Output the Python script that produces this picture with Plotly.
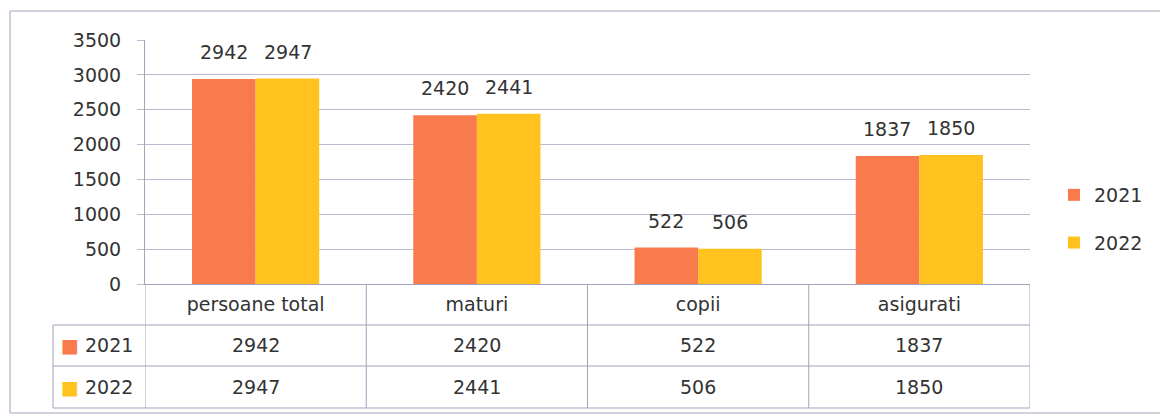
import plotly.graph_objects as go

categories = ["persoane total", "maturi", "copii", "asigurati"]
years = ["2021", "2022"]
values_2021 = [2942, 2420, 522, 1837]
values_2022 = [2947, 2441, 506, 1850]
y_ticks = [0, 500, 1000, 1500, 2000, 2500, 3000, 3500]

COLORS = {"2021": "#F97A4C", "2022": "#FFC21F"}
GRID = "#B9B9D6"
LINE = "#A3A3BC"
TEXT = "#333333"
FONT = "DejaVu Sans, sans-serif"
FS = 19

W, H = 1160, 418
X0, X1 = 145 / W, 1030 / W
Y_ZERO, Y_TOP = 1 - 284 / H, 1 - 40 / H
ROW_LINES = [1 - 325 / H, 1 - 366 / H, 1 - 408 / H]
ROW_MID = [1 - 345 / H, 1 - 387 / H]
TABLE_LEFT = 53 / W

series = {"2021": values_2021, "2022": values_2022}

fig = go.Figure()
for yr in years:
    fig.add_trace(go.Bar(
        x=categories, y=series[yr], name=yr, legendgroup=yr,
        marker=dict(color=COLORS[yr], line=dict(width=0)),
    ))

annotations = []
# value labels above bars
for i, yr in enumerate(years):
    shift = -32 if i == 0 else 32
    for cat, v in zip(categories, series[yr]):
        annotations.append(dict(
            x=cat, y=v, xref="x", yref="y", text=str(v), showarrow=False,
            xshift=shift, yshift=14, yanchor="bottom",
            font=dict(size=FS, color=TEXT, family=FONT),
        ))

# data table under the axis
for r, yr in enumerate(years):
    annotations.append(dict(
        x=TABLE_LEFT + 6 / W, y=ROW_MID[r], xref="paper", yref="paper",
        text=f"<span style='color:{COLORS[yr]}'>■</span> {yr}",
        showarrow=False, xanchor="left", yanchor="middle",
        font=dict(size=FS, color=TEXT, family=FONT),
    ))
    for cat, v in zip(categories, series[yr]):
        annotations.append(dict(
            x=cat, y=ROW_MID[r], xref="x", yref="paper", text=str(v),
            showarrow=False, yanchor="middle",
            font=dict(size=FS, color=TEXT, family=FONT),
        ))

shapes = [
    # outer chart frame
    dict(type="rect", xref="paper", yref="paper", x0=10 / W, x1=1.01,
         y0=1 - 413 / H, y1=1 - 11 / H, line=dict(color=LINE, width=1)),
]
# table grid: category separators
for k in range(len(categories) + 1):
    shapes.append(dict(type="line", xref="x", yref="paper", x0=k - 0.5, x1=k - 0.5,
                       y0=ROW_LINES[-1], y1=Y_ZERO, line=dict(color=LINE, width=1)))
# row label box side
shapes.append(dict(type="line", xref="paper", yref="paper", x0=TABLE_LEFT, x1=TABLE_LEFT,
                   y0=ROW_LINES[-1], y1=ROW_LINES[0], line=dict(color=LINE, width=1)))
for yl in ROW_LINES:
    shapes.append(dict(type="line", xref="paper", yref="paper", x0=TABLE_LEFT, x1=X1,
                       y0=yl, y1=yl, line=dict(color=LINE, width=1)))

fig.update_layout(
    width=W, height=H, autosize=False,
    margin=dict(l=0, r=0, t=0, b=0, autoexpand=False),
    paper_bgcolor="white", plot_bgcolor="white",
    font=dict(family=FONT, size=FS, color=TEXT),
    barmode="group", bargap=0.425, bargroupgap=0,
    xaxis=dict(
        domain=[X0, X1], range=[-0.5, 3.5], type="category", automargin=False,
        showgrid=False, showline=True, linecolor=LINE, linewidth=1,
        ticks="", tickfont=dict(size=FS, color=TEXT), ticklabelstandoff=3,
        fixedrange=True,
    ),
    yaxis=dict(
        domain=[Y_ZERO, Y_TOP], range=[0, 3500], tickvals=y_ticks, automargin=False,
        showgrid=True, gridcolor=GRID, gridwidth=1,
        showline=True, linecolor=LINE, linewidth=1,
        ticks="outside", ticklen=7, tickcolor=GRID,
        tickfont=dict(size=FS, color=TEXT), ticklabelstandoff=12,
        zeroline=False, fixedrange=True,
    ),
    legend=dict(
        x=1054 / W, y=1 - 219 / H, xanchor="left", yanchor="middle",
        font=dict(size=FS, color=TEXT), tracegroupgap=20,
        itemwidth=30, bgcolor="rgba(0,0,0,0)",
    ),
    annotations=annotations,
    shapes=shapes,
)

fig.write_html("out.html", config={"displayModeBar": False},
               post_script="document.body.style.margin='0';")
